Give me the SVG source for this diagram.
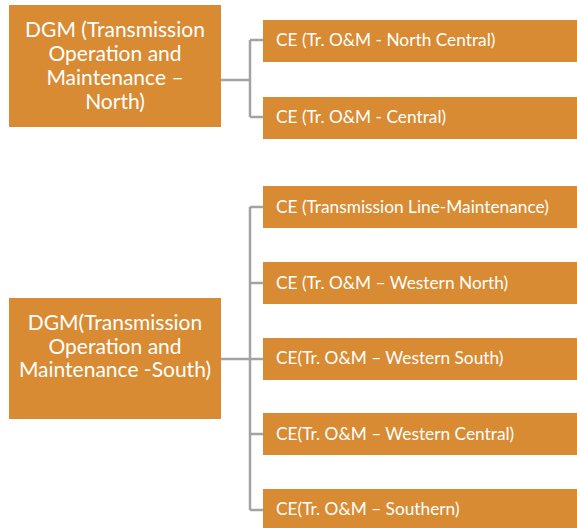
<svg xmlns="http://www.w3.org/2000/svg" width="577" height="528" viewBox="0 0 577 528">
<style>
.box{fill:#D88B33}
.t{fill:#FFFFFF;font-family:Lato,"Open Sans","Liberation Sans",sans-serif}
.big{font-size:21px;text-anchor:middle}
.sm{font-size:17.3px}
.conn{fill:none;stroke:#A3A3A6;stroke-width:2.5}
</style>
<rect width="577" height="528" fill="#FFFFFF"/>
<g id="connectors">
<path class="conn" d="M221 80 H250 M250 40 V117 M250 40 H263 M250 117 H263"/>
<path class="conn" d="M221 359 H250 M250 207 V510 M250 207 H263 M250 283 H263 M250 359 H263 M250 434 H263 M250 510 H263"/>
</g>
<g id="dgm-north">
<rect class="box" x="9" y="5" width="212" height="122"/>
<text class="t big" x="115"><tspan x="115" y="37">DGM (Transmission</tspan><tspan x="115" y="61">Operation and</tspan><tspan x="115" y="85">Maintenance –</tspan><tspan x="115" y="109">North)</tspan></text>
</g>
<g id="ce-north-central">
<rect class="box" x="263" y="20" width="314" height="42"/>
<text class="t sm" x="276" y="46">CE (Tr. O&amp;M - North Central)</text>
</g>
<g id="ce-central">
<rect class="box" x="263" y="97" width="314" height="42"/>
<text class="t sm" x="276" y="123">CE (Tr. O&amp;M - Central)</text>
</g>
<g id="dgm-south">
<rect class="box" x="9" y="298" width="212" height="121"/>
<text class="t big" x="115"><tspan x="115" y="330">DGM(Transmission</tspan><tspan x="115" y="354">Operation and</tspan><tspan x="115" y="377">Maintenance -South)</tspan></text>
</g>
<g id="ce-transmission-line">
<rect class="box" x="263" y="186" width="314" height="42"/>
<text class="t sm" x="276" y="213">CE (Transmission Line-Maintenance)</text>
</g>
<g id="ce-western-north">
<rect class="box" x="263" y="262" width="314" height="42"/>
<text class="t sm" x="276" y="289">CE (Tr. O&amp;M – Western North)</text>
</g>
<g id="ce-western-south">
<rect class="box" x="263" y="338" width="314" height="42"/>
<text class="t sm" x="276" y="364">CE(Tr. O&amp;M – Western South)</text>
</g>
<g id="ce-western-central">
<rect class="box" x="263" y="413" width="314" height="42"/>
<text class="t sm" x="276" y="440">CE(Tr. O&amp;M – Western Central)</text>
</g>
<g id="ce-southern">
<rect class="box" x="263" y="489" width="314" height="42"/>
<text class="t sm" x="276" y="515">CE(Tr. O&amp;M – Southern)</text>
</g>
</svg>
